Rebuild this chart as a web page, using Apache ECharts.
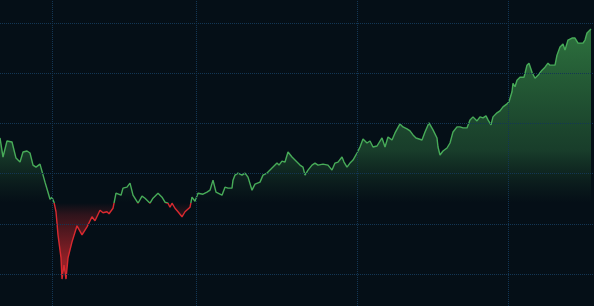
<!DOCTYPE html>
<html>
<head>
<meta charset="utf-8">
<script src="https://cdn.jsdelivr.net/npm/echarts@6/dist/echarts.min.js"></script>
<style>
html,body{margin:0;padding:0;background:#050f17;}
#c{width:594px;height:306px;}
</style>
</head>
<body>
<div id="c"></div>
<script>
// session index (x) and price (y)
const days = [0,3,7,12,16,18,20,23,27,30,33,36,38,40,45,48,50,52,54,56,58,61,62,64,66,68,72,77,82,87,92,95,100,103,107,109,113,116,118,121,123,127,130,133,138,142,145,150,153,158,162,165,168,170,172,175,178,182,185,187,190,192,195,198,200,203,207,210,213,216,218,222,225,228,232,233,235,238,242,245,248,252,255,260,263,267,270,273,277,279,282,285,288,292,297,300,303,305,308,312,315,318,323,328,332,335,338,342,344,347,350,353,357,360,363,367,370,373,377,382,385,388,392,395,400,403,407,410,413,416,418,422,425,429,433,437,438,440,443,447,450,453,457,460,463,467,470,473,477,480,483,486,488,491,493,497,500,503,507,509,512,513,515,517,520,524,527,529,532,535,538,542,545,548,550,555,557,560,563,565,568,572,575,578,583,585,587,589,591];
const values = [117.1,113.3,116.5,116.3,113.1,112.7,112.3,114.3,114.5,114.1,111.7,111.3,111.5,111.9,108.3,106.3,104.9,105.3,104.3,102.4,97.8,93.2,89.0,91.8,89.0,93.2,96.4,99.6,97.8,99.4,101.4,100.6,102.7,102.2,102.4,102.0,103.1,106.1,106.1,105.7,107.1,107.3,108.1,105.7,104.1,105.5,105.1,104.1,105.1,106.1,105.3,104.3,104.1,103.3,104.1,103.1,102.4,101.4,102.4,102.2,103.3,105.3,104.5,106.1,106.3,105.9,106.3,106.7,108.7,106.3,106.1,105.7,107.3,107.1,107.1,108.7,109.7,110.1,109.7,110.1,109.3,106.7,107.9,108.3,109.7,110.1,110.7,111.3,112.1,111.7,112.5,112.3,114.3,113.3,112.3,111.7,111.3,109.7,110.7,111.7,112.1,111.7,111.9,111.7,110.7,112.1,112.3,113.3,112.3,111.3,112.1,112.7,114.1,115.3,116.9,116.1,116.5,115.3,115.5,117.1,115.3,117.3,116.7,118.1,119.9,119.3,118.9,118.5,117.7,117.1,117.3,116.7,118.3,120.1,118.7,117.1,115.3,113.7,114.5,115.1,116.1,118.3,119.3,119.3,119.1,119.1,120.7,121.3,120.5,121.3,121.1,121.5,120.7,119.7,121.3,122.1,122.5,123.3,123.9,124.3,126.3,128.0,127.3,128.6,129.2,129.2,131.6,132.0,130.2,129.0,129.6,130.6,131.2,132.0,131.6,131.6,133.6,135.2,135.8,134.6,136.6,137.0,137.0,136.0,136.0,136.6,138.0,138.0,138.8];
const gridDays = [52,196,357,508];
const gridPrices = [90,100,110,120,130,140];
const baseline = 104.2;
const yRange = {min: 83.63, max: 144.58};

const chart = echarts.init(document.getElementById('c'), null, {renderer: 'canvas'});
const seriesData = days.map((d, i) => [d, values[i]]);
const gridColor = '#133654';

const option = {
  backgroundColor: '#050f17',
  animation: false,
  grid: {left: 0, right: 0, top: 0, bottom: 0, containLabel: false},
  xAxis: {
    type: 'value', min: 0, max: 594,
    axisLine: {show: false}, axisTick: {show: false}, axisLabel: {show: false},
    splitLine: {show: false}
  },
  yAxis: {
    type: 'value', min: yRange.min, max: yRange.max,
    axisLine: {show: false}, axisTick: {show: false}, axisLabel: {show: false},
    splitLine: {show: false}
  },
  series: [
    {
      type: 'line', z: 1, silent: true, data: seriesData, showSymbol: false,
      lineStyle: {opacity: 0}, tooltip: {show: false},
      markLine: {
        silent: true, symbol: ['none', 'none'], label: {show: false},
        lineStyle: {color: gridColor, type: 'dotted', width: 1},
        data: gridDays.map(d => ({xAxis: d})).concat(gridPrices.map(p => ({yAxis: p})))
      }
    },
    {
      type: 'line', z: 3, data: seriesData, showSymbol: false, smooth: false,
      lineStyle: {width: 1.4, color: '#3f9f50'},
      areaStyle: {origin: baseline, color: 'rgba(60,150,75,0.5)'}
    }
  ]
};
chart.setOption(option);

const yBase = chart.convertToPixel({gridIndex: 0}, [0, baseline])[1];
const H = 306;
const f = yBase / H;
const t = v => Math.max(0, Math.min(1, v / H));

const lineGrad = new echarts.graphic.LinearGradient(0, 0, 0, H, [
  {offset: 0, color: '#47ab58'},
  {offset: f, color: '#47ab58'},
  {offset: f, color: '#d9292f'},
  {offset: 1, color: '#d9292f'}
], true);
const areaGrad = new echarts.graphic.LinearGradient(0, 0, 0, H, [
  {offset: 0, color: 'rgba(66,162,82,1)'},
  {offset: t(30), color: 'rgba(62,156,78,1)'},
  {offset: t(150), color: 'rgba(40,98,58,0.8)'},
  {offset: f, color: 'rgba(30,70,45,0)'},
  {offset: Math.min(1, f + 0.001), color: 'rgba(205,38,44,0)'},
  {offset: t(215), color: 'rgba(205,38,44,0.3)'},
  {offset: t(262), color: 'rgba(210,40,46,1)'},
  {offset: 1, color: 'rgba(210,40,46,1)'}
], true);

chart.setOption({
  series: [{}, {lineStyle: {color: lineGrad}, areaStyle: {origin: baseline, color: areaGrad}}]
});
</script>
</body>
</html>
